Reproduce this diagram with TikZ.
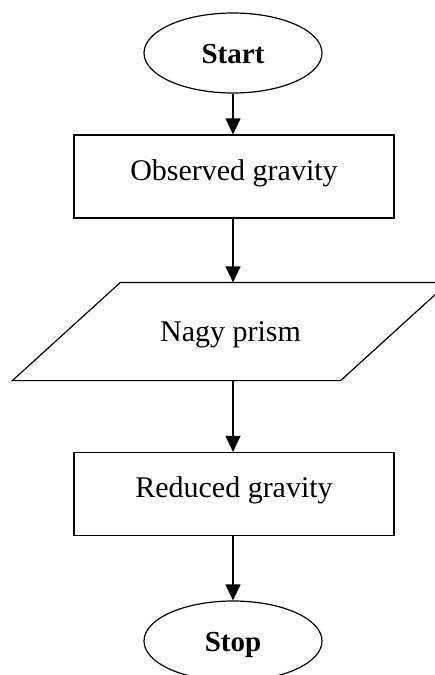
\documentclass[tikz,border=0pt]{standalone}
\usepackage{fontspec}
\setmainfont{Liberation Serif}
\usetikzlibrary{shapes.geometric,arrows.meta,calc}
\begin{document}
\begin{tikzpicture}[x=1pt,y=-1pt,
  line width=1.2pt,
  term/.style={ellipse,draw,minimum width=178pt,minimum height=80pt,inner sep=0pt,
    font=\fontsize{29}{34}\selectfont\bfseries,text height=20pt,text depth=0pt},
  procbox/.style={rectangle,draw,minimum width=320pt,minimum height=83pt,inner sep=0pt,
    font=\fontsize{30}{36}\selectfont,text height=20pt,text depth=13pt},
  iobox/.style={rectangle,minimum width=327pt,minimum height=97pt,inner sep=0pt,
    font=\fontsize{30}{36}\selectfont,text height=20pt,text depth=0pt},
  flow/.style={-{Triangle[length=16pt,width=15pt]}}]
\useasboundingbox (0,0) rectangle (435,675);
\node[term] (start) at (233,53) {Start};
\node[procbox] (obs) at (234,176.5) {Observed gravity};
\node[iobox] (nagy) at (230.5,331.5) {Nagy prism};
\draw ($(nagy.south west)+(-54,0)$) -- ($(nagy.south east)+(-54,0)$)
  -- ($(nagy.north east)+(54,0)$) -- ($(nagy.north west)+(54,0)$) -- cycle;
\node[procbox] (red) at (234,494) {Reduced gravity};
\node[term] (stop) at (233,641) {Stop};
\draw[flow] (start.south) -- (start.south |- obs.north);
\draw[flow] (obs.south -| start.south) -- (start.south |- nagy.north);
\draw[flow] (nagy.south -| start.south) -- (start.south |- red.north);
\draw[flow] (red.south -| start.south) -- (stop.north);
\end{tikzpicture}
\end{document}
